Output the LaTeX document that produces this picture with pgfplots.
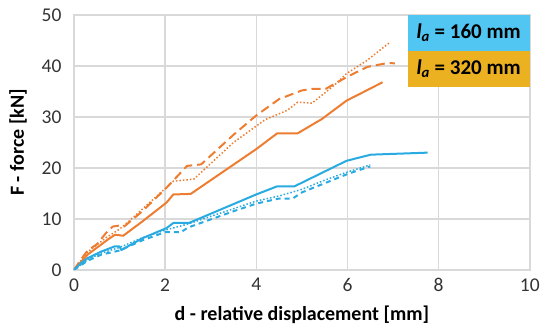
\documentclass[border=0pt]{standalone}
\usepackage{pgfplots}
\pgfplotsset{compat=1.18}
\usepackage{fontspec}
\setmainfont{Carlito}
\definecolor{lorange}{RGB}{237,125,49}
\definecolor{lblue}{RGB}{41,170,225}
\definecolor{legblue}{RGB}{82,198,242}
\definecolor{legyellow}{RGB}{235,177,32}
\definecolor{gridgray}{RGB}{217,217,217}
\begin{document}
\begin{tikzpicture}[x=1pt,y=1pt]
\begin{axis}[
  name=main,
  scale only axis, width=456pt, height=255pt,
  xmin=0, xmax=10, ymin=0, ymax=50,
  xtick={0,2,...,10}, ytick={0,10,...,50},
  grid=major,
  major grid style={gridgray, line width=1.5pt},
  axis line style={gridgray, line width=1.5pt},
  tick style={draw=none},
  ticklabel style={font=\fontsize{19.5}{21}\selectfont, text=black!80},
  xticklabel style={yshift=-5pt},
  yticklabel style={xshift=-9pt},
  /pgf/number format/assume math mode=true,
  xlabel={\textbf{d - relative displacement [mm]}},
  ylabel={\textbf{F - force [kN]}},
  label style={font=\fontsize{20}{22}\selectfont},
  xlabel style={at={([yshift=-45pt]axis description cs:0.5,0)}, anchor=center},
  ylabel style={at={([xshift=-56pt]axis description cs:0,0.5)}, anchor=center},
  every axis plot/.append style={line width=2pt, line join=round},
]
\addplot[lorange, solid] coordinates {
(0,0) (0.15,1.5) (0.3,3) (0.45,4) (0.6,5) (0.75,6) (0.9,6.9) (1.08,6.7) (1.5,9.5) (2.03,13.2) (2.18,14.8) (2.56,14.9) (4.0,23.7) (4.46,26.8) (4.91,26.8) (5.44,29.6) (5.98,33.2) (6.77,36.8)};
\addplot[lorange, dash pattern=on 9pt off 5pt] coordinates {
(0,0) (0.15,2) (0.3,3.8) (0.5,5) (0.7,7.2) (0.85,8.5) (1.0,8.7) (1.1,8.5) (1.5,11.5) (2.03,16.1) (2.48,20.4) (2.79,20.7) (3.5,26.5) (4.0,30.3) (4.5,33.5) (5.0,35.2) (5.22,35.5) (5.52,35.5) (5.98,37.8) (6.43,39.8) (6.89,40.6) (7.04,40.5)};
\addplot[lorange, line width=1.5pt, dash pattern=on 1.5pt off 2pt] coordinates {
(0,0) (0.3,3.5) (0.7,6.3) (1.0,8) (1.2,9.5) (2.18,17.4) (2.63,17.8) (3.5,25) (4.2,29.5) (4.68,31.3) (4.91,32.9) (5.22,32.7) (5.67,35.9) (5.98,38.5) (6.43,41.1) (6.94,44.7)};
\addplot[lblue, solid] coordinates {
(0,0) (0.15,1.3) (0.3,2.3) (0.6,3.6) (0.89,4.6) (1.0,4.6) (1.04,3.9) (1.5,6.2) (2.03,8.2) (2.18,9.2) (2.52,9.2) (4.0,14.8) (4.46,16.4) (4.84,16.4) (5.98,21.4) (6.51,22.6) (7.76,23.0)};
\addplot[lblue, dash pattern=on 5pt off 4pt] coordinates {
(0,0) (0.3,1.8) (0.6,3) (1.0,3.8) (1.5,5.8) (2.0,7.4) (2.35,7.4) (2.5,8.3) (3.5,11.5) (4.0,13.0) (4.5,14.0) (4.8,14.0) (5.0,15.2) (5.5,17.0) (6.0,18.8) (6.5,20.3)};
\addplot[lblue, line width=1.5pt, dash pattern=on 1.5pt off 2pt] coordinates {
(0,0) (0.3,2) (0.6,3.3) (1.0,4.4) (1.5,6.3) (2.0,7.8) (2.5,9) (3.5,12) (4.0,13.5) (4.5,14.5) (5.0,15.8) (5.5,17.6) (6.0,19.2) (6.5,20.6)};
\node[anchor=north east, fill=legblue, minimum width=122pt, minimum height=35.5pt, inner sep=0pt, font=\fontsize{21}{23}\selectfont\bfseries] (l1) at (rel axis cs:1,1) {\textit{l}\textsubscript{\textit{a}} = 160 mm};
\node[anchor=north east, fill=legyellow, minimum width=122pt, minimum height=35.5pt, inner sep=0pt, font=\fontsize{21}{23}\selectfont\bfseries] at (l1.south east) {\textit{l}\textsubscript{\textit{a}} = 320 mm};
\end{axis}
\path[use as bounding box] ([xshift=-74pt,yshift=-57pt]main.south west) rectangle ([xshift=13pt,yshift=15pt]main.north east);
\end{tikzpicture}
\end{document}
